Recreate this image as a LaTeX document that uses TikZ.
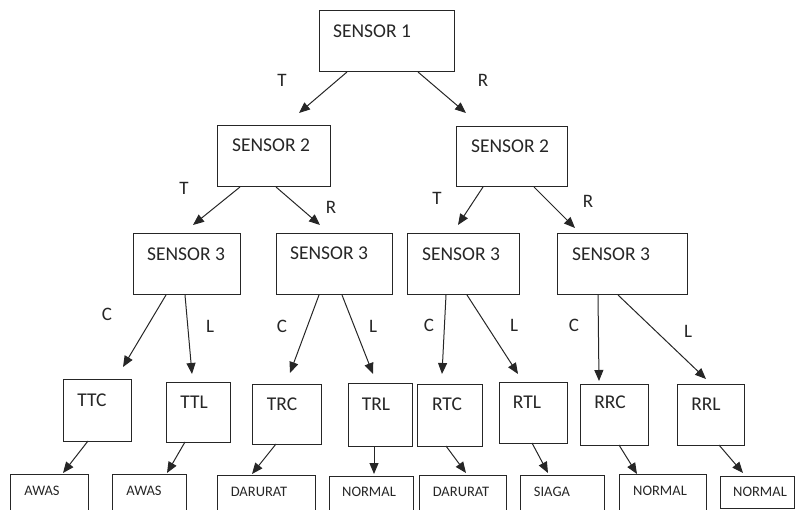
\documentclass[tikz,border=0pt]{standalone}
\usepackage{fontspec}
\setmainfont{Carlito}
\usetikzlibrary{arrows.meta}

\tikzset{
  box/.style={draw=black!85, line width=1pt, inner sep=0pt, outer sep=0pt, anchor=north west},
  txt/.style={inner sep=0pt, text=black!85, font=\fontsize{19.5}{22}\selectfont},
  small/.style={inner sep=0pt, text=black!85, font=\fontsize{14.5}{16}\selectfont},
  lbl/.style={inner sep=0pt, text=black!85, font=\fontsize{19}{22}\selectfont},
  arr/.style={draw=black!85, line width=1pt, -{Triangle[length=11pt,width=9pt]}}
}

\begin{document}
\begin{tikzpicture}[x=1pt, y=-1pt]
        \useasboundingbox (0,0) rectangle (795,510);

        % Sensor 1
        \node[box, minimum width=135, minimum height=61] (s1) at (319,11) {};
        \node[txt] (s1t) at (372,31) {SENSOR 1};

        % Sensor 2
        \node[box, minimum width=113, minimum height=61] (s2a) at (217,126) {};
        \node[txt] (s2at) at (271,145) {SENSOR 2};
        \node[box, minimum width=111, minimum height=60] (s2b) at (456,127) {};
        \node[txt] (s2bt) at (510,146) {SENSOR 2};

        % Sensor 3
        \node[box, minimum width=107, minimum height=61] (s3a) at (133,234) {};
        \node[txt] (s3at) at (186,254) {SENSOR 3};
        \node[box, minimum width=116, minimum height=61] (s3b) at (276,234) {};
        \node[txt] (s3bt) at (329,253) {SENSOR 3};
        \node[box, minimum width=112, minimum height=61] (s3c) at (407,234) {};
        \node[txt] (s3ct) at (461,254) {SENSOR 3};
        \node[box, minimum width=130, minimum height=61] (s3d) at (557,234) {};
        \node[txt] (s3dt) at (611,254) {SENSOR 3};

        % Kombinasi
        \node[box, minimum width=68, minimum height=61] (ttc) at (63,380) {};
        \node[txt] (ttct) at (92,400) {TTC};
        \node[box, minimum width=64, minimum height=59] (ttl) at (166,383) {};
        \node[txt] (ttlt) at (194,402) {TTL};
        \node[box, minimum width=69, minimum height=59] (trc) at (252,385) {};
        \node[txt] (trct) at (282,404) {TRC};
        \node[box, minimum width=64, minimum height=62] (trl) at (348,384) {};
        \node[txt] (trlt) at (376,404) {TRL};
        \node[box, minimum width=65, minimum height=61] (rtc) at (417,385) {};
        \node[txt] (rtct) at (447,404) {RTC};
        \node[box, minimum width=68, minimum height=60] (rtl) at (499,383) {};
        \node[txt] (rtlt) at (527,402) {RTL};
        \node[box, minimum width=68, minimum height=60] (rrc) at (580,385) {};
        \node[txt] (rrct) at (610,402) {RRC};
        \node[box, minimum width=67, minimum height=60] (rrl) at (677,385) {};
        \node[txt] (rrlt) at (706,404) {RRL};

        % Status
        \node[box, minimum width=78, minimum height=50] (b1) at (10,474) {};
        \node[small] (b1t) at (42,491) {AWAS};
        \node[box, minimum width=74, minimum height=50] (b2) at (112,474) {};
        \node[small] (b2t) at (144,491) {AWAS};
        \node[box, minimum width=98, minimum height=50] (b3) at (217,475) {};
        \node[small] (b3t) at (259,492) {DARURAT};
        \node[box, minimum width=84, minimum height=50] (b4) at (329,476) {};
        \node[small] (b4t) at (369,492) {NORMAL};
        \node[box, minimum width=87, minimum height=50] (b5) at (419,475) {};
        \node[small] (b5t) at (461,492) {DARURAT};
        \node[box, minimum width=84, minimum height=50] (b6) at (520,475) {};
        \node[small] (b6t) at (552,492) {SIAGA};
        \node[box, minimum width=87, minimum height=50] (b7) at (619,474) {};
        \node[small] (b7t) at (660,491) {NORMAL};
        \node[box, minimum width=74, minimum height=32] (b8) at (720,476) {};
        \node[small] (b8t) at (760,492) {NORMAL};

        % Ujung panah
        \coordinate (e1t) at (299,113);
        \coordinate (e1r) at (466,113);
        \coordinate (e2at) at (193,225);
        \coordinate (e2ar) at (320,225);
        \coordinate (e2bt) at (458,225);
        \coordinate (e2br) at (575,228);
        \coordinate (e3ac) at (123,367);
        \coordinate (e3al) at (192,374);
        \coordinate (e3bc) at (290,373);
        \coordinate (e3bl) at (373,374);
        \coordinate (e3cc) at (442,374);
        \coordinate (e3cl) at (518,374);
        \coordinate (e3dc) at (599,381);
        \coordinate (e3dl) at (706,379);
        \coordinate (e4a) at (63,473);
        \coordinate (e4b) at (167,473);
        \coordinate (e4c) at (252,474);
        \coordinate (e4d) at (374,474);
        \coordinate (e4e) at (466,473);
        \coordinate (e4f) at (548,473);
        \coordinate (e4g) at (637,474);
        \coordinate (e4h) at (743,473);

        % Panah sensor 1
        \draw[arr] (s1.south -| 347,0) -- (e1t);
        \draw[arr] (s1.south -| 418,0) -- (e1r);
        \node[lbl] (l1t) at (282,80) {T};
        \node[lbl] (l1r) at (483,80) {R};

        % Panah sensor 2
        \draw[arr] (s2a.south -| 240,0) -- (e2at);
        \draw[arr] (s2a.south -| 276,0) -- (e2ar);
        \draw[arr] (s2b.south -| 483,0) -- (e2bt);
        \draw[arr] (s2b.south -| 534,0) -- (e2br);
        \node[lbl] (l2at) at (184,188) {T};
        \node[lbl] (l2ar) at (331,207) {R};
        \node[lbl] (l2bt) at (437,198) {T};
        \node[lbl] (l2br) at (588,201) {R};

        % Panah sensor 3
        \draw[arr] (s3a.south -| 166,0) -- (e3ac);
        \draw[arr] (s3a.south -| 185,0) -- (e3al);
        \draw[arr] (s3b.south -| 319,0) -- (e3bc);
        \draw[arr] (s3b.south -| 342,0) -- (e3bl);
        \draw[arr] (s3c.south -| 446,0) -- (e3cc);
        \draw[arr] (s3c.south -| 467,0) -- (e3cl);
        \draw[arr] (s3d.south -| 598,0) -- (e3dc);
        \draw[arr] (s3d.south -| 618,0) -- (e3dl);
        \node[lbl] (l3ac) at (107,314) {C};
        \node[lbl] (l3al) at (210,326) {L};
        \node[lbl] (l3bc) at (282,326) {C};
        \node[lbl] (l3bl) at (373,326) {L};
        \node[lbl] (l3cc) at (429,325) {C};
        \node[lbl] (l3cl) at (514,325) {L};
        \node[lbl] (l3dc) at (574,325) {C};
        \node[lbl] (l3dl) at (688,331) {L};

        % Panah status
        \draw[arr] (ttc.south -| 88,0) -- (e4a);
        \draw[arr] (ttl.south -| 185,0) -- (e4b);
        \draw[arr] (trc.south -| 276,0) -- (e4c);
        \draw[arr] (trl.south -| 374,0) -- (e4d);
        \draw[arr] (rtc.south -| 446,0) -- (e4e);
        \draw[arr] (rtl.south -| 532,0) -- (e4f);
        \draw[arr] (rrc.south -| 619,0) -- (e4g);
        \draw[arr] (rrl.south -| 719,0) -- (e4h);
    \end{tikzpicture}
\end{document}
